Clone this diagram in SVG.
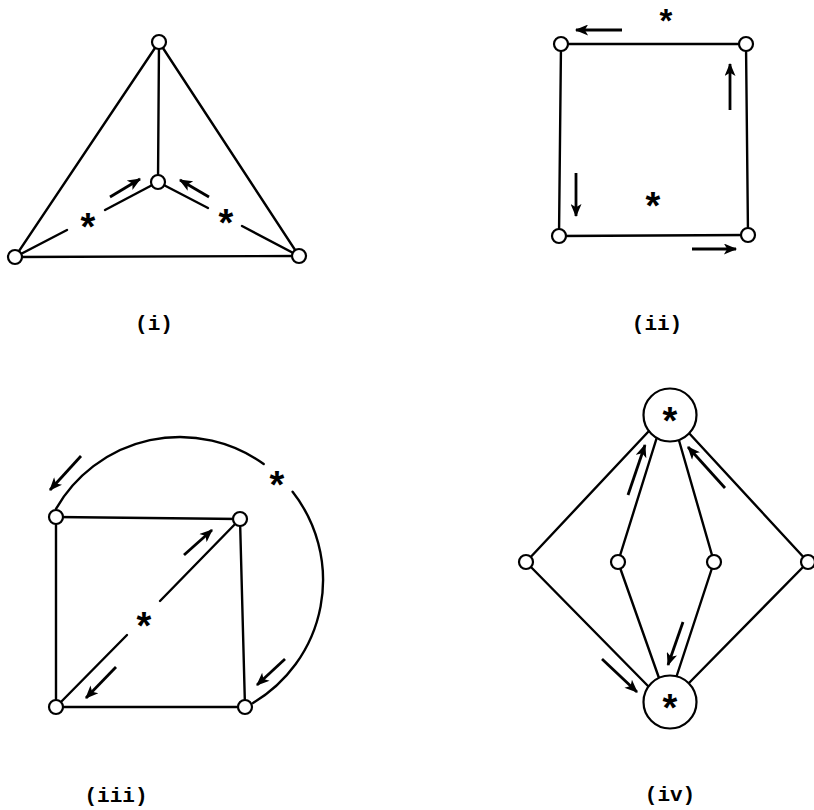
<svg xmlns="http://www.w3.org/2000/svg" width="814" height="810" viewBox="0 0 814 810">
<style>
.e{stroke:#000;stroke-width:2.4;fill:none;stroke-linecap:round}
.a{stroke:#000;stroke-width:2.8;fill:none;marker-end:url(#ah)}
.n{fill:#fff;stroke:#000;stroke-width:2.2}
.s{font-family:"Liberation Sans",Arial,sans-serif;font-weight:bold;font-size:38px;text-anchor:middle}
.l{font-family:"Liberation Mono","Courier New",monospace;font-weight:bold;font-size:21px;text-anchor:middle}
</style>
<defs>
<marker id="ah" viewBox="0 0 12 10" refX="11" refY="5" markerWidth="15" markerHeight="11" markerUnits="userSpaceOnUse" orient="auto">
<path d="M0,0 L12,5 L0,10 L3,5 z" fill="#000"/>
</marker>
</defs>
<g id="connectors">
<!-- (i) -->
<line class="e" x1="159" y1="42" x2="15" y2="257"/>
<line class="e" x1="159" y1="42" x2="299" y2="256"/>
<line class="e" x1="159" y1="42" x2="158" y2="182"/>
<line class="e" x1="15" y1="257" x2="299" y2="256"/>
<line class="e" x1="158" y1="182" x2="105" y2="210"/>
<line class="e" x1="67" y1="230" x2="15" y2="257"/>
<line class="e" x1="158" y1="182" x2="208" y2="208"/>
<line class="e" x1="242" y1="226" x2="299" y2="256"/>
<line class="a" x1="110" y1="197" x2="140" y2="179"/>
<line class="a" x1="209" y1="197" x2="180" y2="180"/>
<!-- (ii) -->
<line class="e" x1="561" y1="44" x2="746" y2="44"/>
<line class="e" x1="561" y1="44" x2="559" y2="236"/>
<line class="e" x1="746" y1="44" x2="748" y2="235"/>
<line class="e" x1="559" y1="236" x2="748" y2="235"/>
<line class="a" x1="622" y1="30" x2="576" y2="30"/>
<line class="a" x1="730" y1="110" x2="730" y2="64"/>
<line class="a" x1="576" y1="173" x2="576" y2="216"/>
<line class="a" x1="692" y1="249" x2="736" y2="249"/>
<!-- (iii) -->
<line class="e" x1="56" y1="517" x2="240" y2="519"/>
<line class="e" x1="56" y1="517" x2="56" y2="707"/>
<line class="e" x1="240" y1="519" x2="245" y2="707"/>
<line class="e" x1="56" y1="707" x2="245" y2="707"/>
<line class="e" x1="240" y1="519" x2="160" y2="601"/>
<line class="e" x1="127" y1="635" x2="56" y2="707"/>
<path class="e" d="M56,508.8 A143,143 0 0 1 263.7,464"/>
<path class="e" d="M292.6,491.8 A143,143 0 0 1 253,703"/>
<line class="a" x1="81" y1="456" x2="50" y2="490"/>
<line class="a" x1="285" y1="659" x2="257" y2="685"/>
<line class="a" x1="184" y1="555" x2="212" y2="530"/>
<line class="a" x1="116" y1="667" x2="86" y2="698"/>
<!-- (iv) -->
<line class="e" x1="526" y1="562" x2="648" y2="432"/>
<line class="e" x1="526" y1="562" x2="648" y2="686"/>
<line class="e" x1="618" y1="562" x2="657" y2="437"/>
<line class="e" x1="618" y1="562" x2="659" y2="678"/>
<line class="e" x1="714" y1="562" x2="678" y2="437"/>
<line class="e" x1="714" y1="562" x2="676" y2="678"/>
<line class="e" x1="808" y1="562" x2="688" y2="432"/>
<line class="e" x1="808" y1="562" x2="688" y2="684"/>
<line class="a" x1="628" y1="495" x2="645" y2="445"/>
<line class="a" x1="725" y1="488" x2="688" y2="447"/>
<line class="a" x1="683" y1="622" x2="668" y2="665"/>
<line class="a" x1="602" y1="659" x2="637" y2="692"/>
</g>
<g id="graph-i">
<circle id="i-top" class="n" cx="159" cy="42" r="7"/>
<circle id="i-center" class="n" cx="158" cy="182" r="7"/>
<circle id="i-bl" class="n" cx="15" cy="257" r="7"/>
<circle id="i-br" class="n" cx="299" cy="256" r="7"/>
<text class="s" x="88" y="240">*</text>
<text class="s" x="226" y="236">*</text>
<text class="l" x="154" y="330">(i)</text>
</g>
<g id="graph-ii">
<circle id="ii-tl" class="n" cx="561" cy="44" r="7"/>
<circle id="ii-tr" class="n" cx="746" cy="44" r="7"/>
<circle id="ii-bl" class="n" cx="559" cy="236" r="7"/>
<circle id="ii-br" class="n" cx="748" cy="235" r="7"/>
<text class="s" x="666" y="32" style="font-size:33px">*</text>
<text class="s" x="653" y="219">*</text>
<text class="l" x="657" y="330">(ii)</text>
</g>
<g id="graph-iii">
<circle id="iii-tl" class="n" cx="56" cy="517" r="7"/>
<circle id="iii-tr" class="n" cx="240" cy="519" r="7"/>
<circle id="iii-bl" class="n" cx="56" cy="707" r="7"/>
<circle id="iii-br" class="n" cx="245" cy="707" r="7"/>
<text class="s" x="144" y="639">*</text>
<text class="s" x="277" y="498">*</text>
<text class="l" x="116" y="802">(iii)</text>
</g>
<g id="graph-iv">
<circle id="iv-top" class="n" cx="670" cy="415" r="26.5"/>
<circle id="iv-bottom" class="n" cx="670" cy="702" r="26.5"/>
<circle id="iv-l" class="n" cx="526" cy="562" r="7"/>
<circle id="iv-ml" class="n" cx="618" cy="562" r="7"/>
<circle id="iv-mr" class="n" cx="714" cy="562" r="7"/>
<circle id="iv-r" class="n" cx="808" cy="562" r="7"/>
<text class="s" x="670" y="434">*</text>
<text class="s" x="670" y="721">*</text>
<text class="l" x="670" y="801">(iv)</text>
</g>
</svg>
